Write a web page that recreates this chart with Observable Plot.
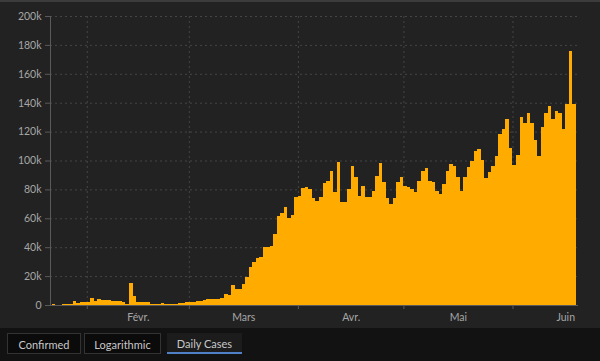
<!DOCTYPE html>
<html>
<head>
<meta charset="utf-8">
<script src="https://cdn.jsdelivr.net/npm/d3@7"></script>
<script src="https://cdn.jsdelivr.net/npm/@observablehq/plot@0.6"></script>
<style>
  html, body { margin: 0; padding: 0; background: #121212; width: 600px; height: 361px; overflow: hidden; }
  #chart { position: absolute; left: 0; top: 0; width: 600px; height: 328px; background: #222; border-top: 2px solid #3c3c3c; box-sizing: border-box; }
  #chart svg { display: block; }
  #tabs { position: absolute; left: 0; top: 328px; width: 600px; height: 33px; background: #121212; font-family: Lato, "Open Sans", sans-serif; font-size: 11px; color: #c8c8c8; }
  .tab { position: absolute; top: 5px; height: 21px; line-height: 21px; text-align: center; background: #0b0b0b; border: 1px solid #333; box-sizing: border-box; }
  .tab.active { background: #1c1c1c; border: none; border-bottom: 2px solid #4f7fc4; }
</style>
</head>
<body>
<div id="chart"></div>
<div id="tabs"></div>
<script>
// Daily new cases (thousands), one value per day starting 2020-01-22
const startDate = "2020-01-22";
const dailyCasesK = [
  0.5, 0.1, 0.3, 0.5, 0.7, 0.8, 3.0, 1.5, 2.3, 2.0,
  2.1, 4.7, 3.1, 4.0, 3.7, 3.2, 3.6, 2.7, 3.0, 2.6,
  2.0, 0.4, 15.2, 6.5, 2.1, 2.2, 2.0, 1.9, 0.5, 0.6,
  0.6, 1.7, 0.4, 0.9, 0.9, 1.0, 1.3, 1.3, 1.8, 2.2,
  1.9, 2.5, 3.0, 3.2, 4.2, 4.2, 4.0, 4.2, 5.0, 7.4,
  7.2, 14.0, 11.0, 11.0, 14.8, 19.6, 26.5, 30.0, 32.5, 33.0,
  40.0, 40.4, 41.0, 49.0, 61.8, 64.0, 67.5, 60.0, 62.5, 75.0,
  75.6, 80.7, 82.0, 80.3, 74.0, 72.2, 74.5, 84.2, 86.0, 92.5,
  78.0, 99.2, 71.0, 71.0, 80.3, 96.0, 88.8, 75.6, 82.6, 74.5,
  75.0, 78.6, 89.5, 98.0, 85.3, 74.0, 69.9, 74.0, 84.9, 88.3,
  82.6, 81.4, 80.3, 78.0, 86.0, 93.0, 94.8, 86.0, 84.9, 79.0,
  76.8, 83.7, 92.5, 97.6, 96.4, 88.3, 79.0, 88.3, 95.7, 99.9,
  106.3, 108.0, 100.6, 88.0, 92.0, 96.4, 103.3, 118.3, 121.8, 128.7,
  108.6, 97.0, 104.0, 130.0, 126.0, 133.0, 126.0, 114.0, 103.0, 123.0,
  133.0, 138.0, 129.0, 134.5, 133.0, 122.0, 139.0, 176.0, 139.0
];
// Axis ticks
const yTicks = [0, 20000, 40000, 60000, 80000, 100000, 120000, 140000, 160000, 180000, 200000];
const monthStarts = ["2020-02-01", "2020-03-01", "2020-04-01", "2020-05-01", "2020-06-01"];
const monthLabelDates = ["2020-02-15T12:00", "2020-03-16T12:00", "2020-04-16", "2020-05-16T12:00", "2020-06-16"];
const monthLabels = ["Févr.", "Mars", "Avr.", "Mai", "Juin"];
const tabLabels = ["Confirmed", "Logarithmic", "Daily Cases"];

const t0 = new Date(startDate + "T00:00Z");
const data = dailyCasesK.map((v, i) => ({ date: d3.utcDay.offset(t0, i), cases: v * 1000 }));
const utc = s => new Date(s + (s.length > 10 ? "Z" : "T00:00Z"));
const starts = monthStarts.map(utc);
const mids = monthLabelDates.map(utc);
const labelOf = new Map(mids.map((d, i) => [+d, monthLabels[i]]));

const grid = { stroke: "#454545", strokeOpacity: 1, strokeDasharray: "2,3" };

const chart = Plot.plot({
  width: 600,
  height: 326,
  marginLeft: 50,
  marginRight: 22,
  marginTop: 14,
  marginBottom: 23,
  style: { background: "#222", color: "#a6a6a6", fontFamily: "Lato, 'Open Sans', sans-serif", fontSize: "10.5px" },
  x: { type: "utc", domain: [utc("2020-01-21T13:00"), utc("2020-06-19T15:00")] },
  y: { domain: [0, 200000] },
  marks: [
    Plot.gridY(yTicks, grid),
    Plot.gridX(starts, grid),
    Plot.rectY(data, { x: "date", y: "cases", interval: "day", fill: "#ffab00", inset: 0, shapeRendering: "crispEdges" }),
    Plot.ruleY([0], { stroke: "#5a5a5a" }),
    Plot.ruleX([utc("2020-01-21T13:00")], { y1: 0, y2: 200000, stroke: "#5a5a5a" }),
    Plot.axisY(yTicks, { tickSize: 5, tickPadding: 4, stroke: "#5a5a5a", tickFormat: d => d === 0 ? "0" : d / 1000 + "k", label: null }),
    Plot.axisX(starts, { tickSize: 4, stroke: "#5a5a5a", tickFormat: () => "", label: null }),
    Plot.axisX(mids, { tickSize: 0, tickPadding: 8, tickFormat: d => labelOf.get(+d), label: null })
  ]
});
document.getElementById("chart").appendChild(chart);

const tabPos = [[7, 74], [84, 77], [167, 75]];
const tabs = document.getElementById("tabs");
tabLabels.forEach((t, i) => {
  const el = document.createElement("div");
  el.className = "tab" + (i === 2 ? " active" : "");
  el.style.left = tabPos[i][0] + "px";
  el.style.width = tabPos[i][1] + "px";
  el.textContent = t;
  tabs.appendChild(el);
});
</script>
</body>
</html>
